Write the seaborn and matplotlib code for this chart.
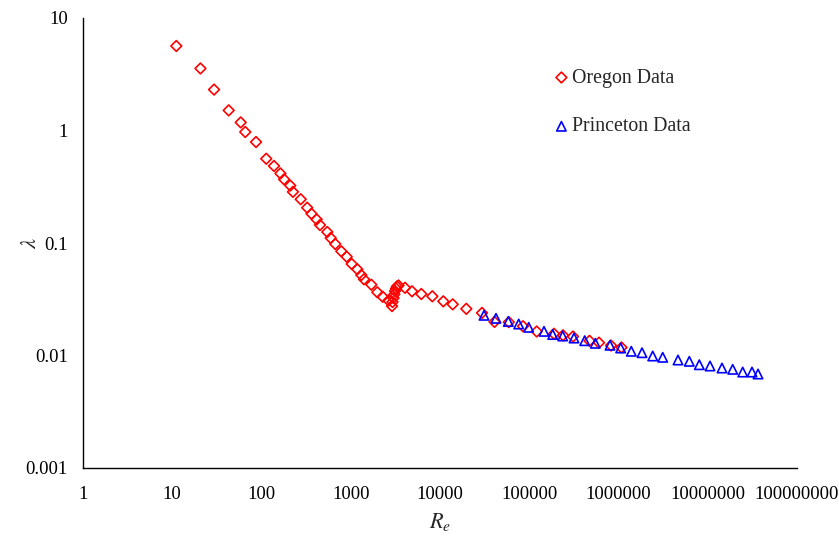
import matplotlib
matplotlib.use("Agg")
import matplotlib.pyplot as plt
import seaborn as sns
import numpy as np

# Oregon data (Re, lambda)
oregon_re = [11.1, 20.7, 29.4, 42.9, 58.5, 65.8, 86.8, 113, 138, 163, 179, 210, 225, 275,
             325, 363, 415, 452, 546, 596, 671, 784, 901, 1025, 1184, 1313, 1408, 1700,
             1984, 2280, 2649, 2899, 2937, 3013, 3076, 3131, 3214, 3297, 3428, 4053, 4857,
             6174, 8200, 10890, 13880, 19710, 29550, 40800, 59000, 85100, 121200, 189400,
             238900, 309200, 473300, 604600, 824100, 1080000]
oregon_lam = [5.64, 3.56, 2.31, 1.51, 1.18, 0.97, 0.79, 0.561, 0.484, 0.415, 0.368, 0.324,
              0.285, 0.245, 0.206, 0.182, 0.162, 0.1445, 0.1253, 0.1108, 0.098, 0.0844,
              0.0755, 0.0651, 0.0584, 0.0519, 0.0476, 0.0426, 0.0365, 0.0333, 0.0308,
              0.0275, 0.0299, 0.0324, 0.0349, 0.0374, 0.0394, 0.0411, 0.0419, 0.040,
              0.0372, 0.0352, 0.0336, 0.0303, 0.0285, 0.026, 0.0239, 0.0199, 0.0198,
              0.0182, 0.01635, 0.0156, 0.01512, 0.01475, 0.0135, 0.013, 0.01227, 0.01178]

# Princeton data (Re, lambda)
princeton_re = [31120, 42410, 58260, 76170, 98580, 146300, 183100, 237000, 317200, 418100,
                549600, 803000, 1058000, 1391000, 1834000, 2417000, 3128000, 4642000,
                6214000, 8041000, 10600000, 14440000, 19030000, 24640000, 31320000, 36560000]
princeton_lam = [0.02277, 0.0214, 0.02006, 0.01905, 0.0178, 0.0164, 0.01537, 0.0149, 0.0143,
                 0.01354, 0.01284, 0.01233, 0.01166, 0.0109, 0.01059, 0.0099, 0.00964,
                 0.00912, 0.00888, 0.00828, 0.00807, 0.00774, 0.00754, 0.00713, 0.00713,
                 0.00685]

x_ticks = [1, 10, 100, 1000, 10000, 100000, 1000000, 10000000, 100000000]
x_tick_labels = ["1", "10", "100", "1000", "10000", "100000", "1000000", "10000000", "100000000"]
y_ticks = [0.001, 0.01, 0.1, 1, 10]
y_tick_labels = ["0.001", "0.01", "0.1", "1", "10"]

sns.set_style("white")
plt.rcParams["font.family"] = ["Liberation Serif", "DejaVu Serif"]
plt.rcParams["mathtext.fontset"] = "stix"

fig = plt.figure(figsize=(8.39, 5.39), dpi=100)
ax = fig.add_axes([83 / 839, 1 - 468 / 539, (797 - 83) / 839, (468 - 18) / 539])

sns.scatterplot(x=oregon_re, y=oregon_lam, ax=ax, marker="D", s=30,
                facecolor="none", edgecolor="#FF0000", linewidth=1.2, label="Oregon Data")
sns.scatterplot(x=princeton_re, y=princeton_lam, ax=ax, marker="^", s=46,
                facecolor="none", edgecolor="#0000FF", linewidth=1.2, label="Princeton Data")

ax.set_xscale("log")
ax.set_yscale("log")
ax.set_xlim(1, 1e8)
ax.set_ylim(0.001, 10)
ax.set_xticks(x_ticks)
ax.set_xticklabels(x_tick_labels)
ax.set_yticks(y_ticks)
ax.set_yticklabels(y_tick_labels)
ax.minorticks_off()

for side in ["top", "right"]:
    ax.spines[side].set_visible(False)
for side in ["left", "bottom"]:
    ax.spines[side].set_color("black")
    ax.spines[side].set_linewidth(1.0)

ax.tick_params(axis="both", direction="in", length=5, width=0.9, color="black",
               labelsize=13.5, labelcolor="black")
ax.tick_params(axis="x", pad=13)
ax.tick_params(axis="y", pad=11)

ax.set_xlabel("$R_e$", fontsize=16, labelpad=6)
ax.set_ylabel(r"$\lambda$", fontsize=16)
ax.yaxis.set_label_coords((41 - 83) / 714, 0.5)

leg = ax.legend(loc="upper left", bbox_to_anchor=(0.645, 0.905), frameon=False,
                fontsize=14.3, handletextpad=0.05, labelspacing=1.5, borderaxespad=0,
                handlelength=1.0)

fig.savefig("out.png", dpi=100)
